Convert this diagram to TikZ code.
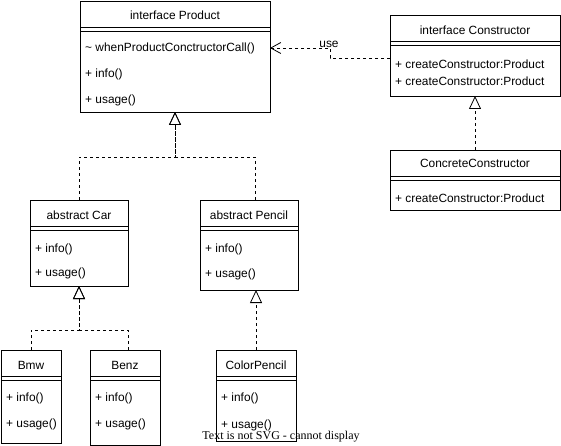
\documentclass[tikz,border=0pt]{standalone}
\usepackage{fontspec}
\setmainfont{Liberation Sans}
\newfontfamily\svgnote{Liberation Serif}
\usetikzlibrary{positioning,arrows.meta}

% double line under a class header
\newcommand{\headerlines}[1]{%
  \draw[line width=0.8pt] ([yshift=-26pt]#1.north west) -- ([yshift=-26pt]#1.north east)
    ([yshift=-30pt]#1.north west) -- ([yshift=-30pt]#1.north east);}

\begin{document}
\begin{tikzpicture}[
        x=1pt, y=-1pt,
        font=\fontsize{11.9}{13}\selectfont,
        classbox/.style={draw, line width=0.8pt, anchor=north west, inner sep=0pt, outer sep=0pt},
        title/.style={inner sep=0pt},
        member/.style={anchor=west, inner sep=0pt},
        realize/.style={draw, line width=0.8pt, dash pattern=on 3pt off 3pt,
            -{Triangle[open, length=13pt, width=12pt]}},
        dependency/.style={draw, line width=0.8pt, dash pattern=on 3pt off 3pt,
            -{Straight Barb[length=10pt, width=11pt]}}
    ]
    \useasboundingbox (0,0) rectangle (561,446);

    % Boxes
    \node[classbox, minimum width=190pt, minimum height=111pt] (prod) at (80,1) {};
    \node[classbox, minimum width=170pt, minimum height=81pt] (cons) at (390,15) {};
    \node[classbox, minimum width=170pt, minimum height=60pt] (conc) at (390,150) {};
    \node[classbox, minimum width=98pt, minimum height=86pt] (car) at (30,200) {};
    \node[classbox, minimum width=98pt, minimum height=90pt] (pencil) at (200,200) {};
    \node[classbox, minimum width=60pt, minimum height=93pt] (bmw) at (1,350) {};
    \node[classbox, minimum width=70pt, minimum height=95pt] (benz) at (90,350) {};
    \node[classbox, minimum width=80pt, minimum height=91pt] (color) at (216,350) {};

    % Headers
    \foreach \c in {prod, cons, conc, car, pencil, bmw, benz, color} {\headerlines{\c}}
    \node[title] (prodT) at ([yshift=-14pt]prod.north) {interface Product};
    \node[title] (consT) at ([yshift=-15pt]cons.north) {interface Constructor};
    \node[title] (concT) at ([yshift=-13pt]conc.north) {ConcreteConstructor};
    \node[title] (carT) at ([yshift=-15pt]car.north) {abstract Car};
    \node[title] (pencilT) at ([yshift=-15pt]pencil.north) {abstract Pencil};
    \node[title] (bmwT) at ([yshift=-15pt]bmw.north) {Bmw};
    \node[title] (benzT) at ([yshift=-15pt]benz.north) {Benz};
    \node[title] (colorT) at ([yshift=-15pt]color.north) {ColorPencil};

    % Members
    \node[member] (prodM1) at ([xshift=5pt, yshift=-47.5pt]prod.north west) {\textasciitilde{} whenProductConctructorCall()};
    \node[member] (prodM2) at ([xshift=5pt, yshift=-73.5pt]prod.north west) {+ info()};
    \node[member] (prodM3) at ([xshift=5pt, yshift=-99.5pt]prod.north west) {+ usage()};
    \node[member] (consM1) at ([xshift=5pt, yshift=-49pt]cons.north west) {+ createConstructor:Product};
    \node[member] (consM2) at ([xshift=5pt, yshift=-66pt]cons.north west) {+ createConstructor:Product};
    \node[member] (concM1) at ([xshift=5pt, yshift=-48pt]conc.north west) {+ createConstructor:Product};
    \node[member] (carM1) at ([xshift=5pt, yshift=-49pt]car.north west) {+ info()};
    \node[member] (carM2) at ([xshift=5pt, yshift=-73pt]car.north west) {+ usage()};
    \node[member] (pencilM1) at ([xshift=5pt, yshift=-49pt]pencil.north west) {+ info()};
    \node[member] (pencilM2) at ([xshift=5pt, yshift=-74pt]pencil.north west) {+ usage()};
    \node[member] (bmwM1) at ([xshift=5pt, yshift=-48pt]bmw.north west) {+ info()};
    \node[member] (bmwM2) at ([xshift=5pt, yshift=-74pt]bmw.north west) {+ usage()};
    \node[member] (benzM1) at ([xshift=5pt, yshift=-48pt]benz.north west) {+ info()};
    \node[member] (benzM2) at ([xshift=5pt, yshift=-74pt]benz.north west) {+ usage()};
    \node[member] (colorM1) at ([xshift=5pt, yshift=-48pt]color.north west) {+ info()};
    \node[member] (colorM2) at ([xshift=5pt, yshift=-75pt]color.north west) {+ usage()};

    % Edges
    \draw[realize] (car.north) -- ++(0,-43) -| (prod.south);
    \draw[realize] ([xshift=6pt]pencil.north) -- ++(0,-43) -| (prod.south);
    \draw[realize] (bmw.north) -- ++(0,-20) -| (car.south);
    \draw[realize] ([xshift=3pt]benz.north) -- ++(0,-20) -| (car.south);
    \draw[realize] (color.north) -- (color.north |- pencil.south);
    \draw[realize] (conc.north) -- (cons.south);
    \draw[dependency] ([yshift=-2.5pt]cons.west) -- ++(-60,0) |- ([yshift=8.5pt]prod.east);
    \node (useLbl) at (329,44) {use};

    \node[font=\svgnote\fontsize{12}{14}\selectfont] (svgNote) at (281,437) {Text is not SVG - cannot display};
\end{tikzpicture}
\end{document}
